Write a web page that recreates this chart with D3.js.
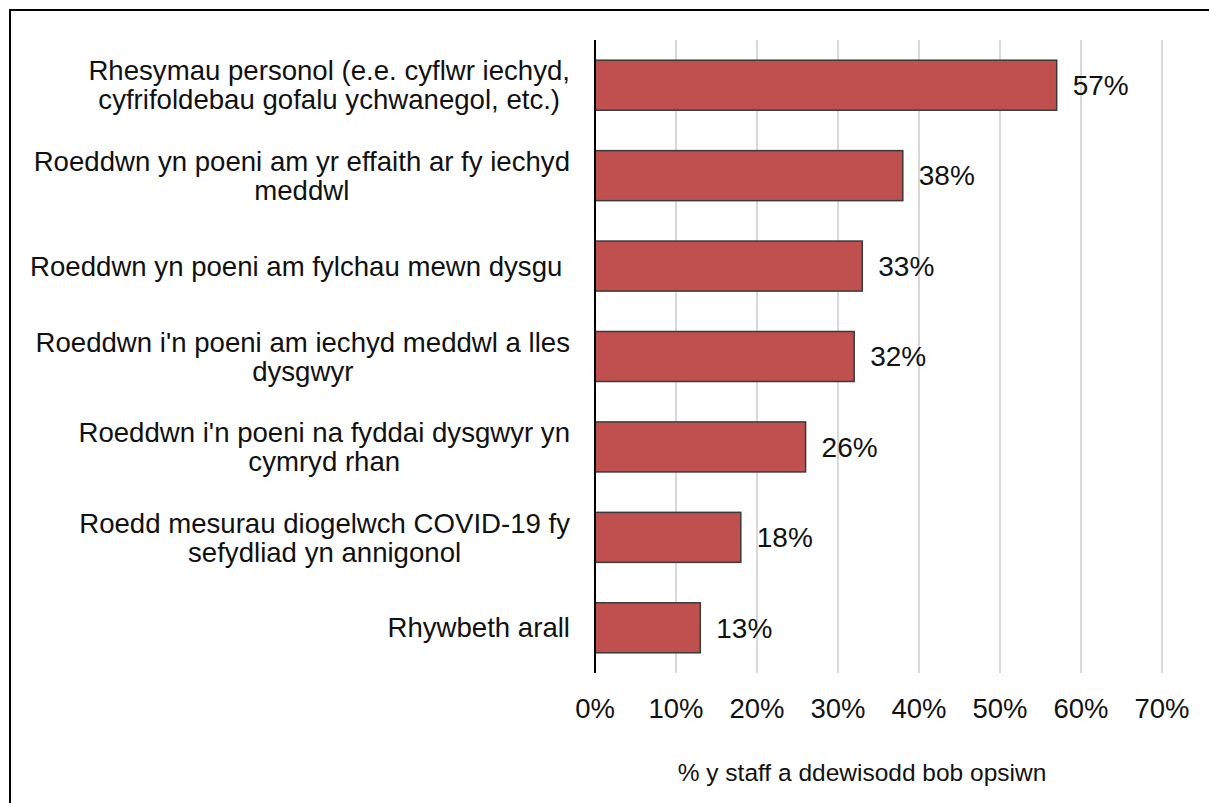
<!DOCTYPE html>
<html>
<head>
<meta charset="utf-8">
<script src="https://cdn.jsdelivr.net/npm/d3@7"></script>
<style>
  body { margin: 0; background: #fff; }
  text { font-family: "Liberation Sans", Arial, sans-serif; fill: #111; white-space: pre; }
</style>
</head>
<body>
<div id="chart"></div>
<script>
// categories (each one split into its display lines)
var categories = [
  ["Rhesymau personol (e.e. cyflwr iechyd,", "cyfrifoldebau gofalu ychwanegol, etc.)"],
  ["Roeddwn yn poeni am yr effaith ar fy iechyd", "meddwl"],
  ["Roeddwn yn poeni am fylchau mewn dysgu "],
  ["Roeddwn i'n poeni am iechyd meddwl a lles", "dysgwyr"],
  ["Roeddwn i'n poeni na fyddai dysgwyr yn", "cymryd rhan"],
  ["Roedd mesurau diogelwch COVID-19 fy", "sefydliad yn annigonol"],
  ["Rhywbeth arall"]
];
var values = [57, 38, 33, 32, 26, 18, 13];
var ticks = [0, 10, 20, 30, 40, 50, 60, 70];
var axisTitle = "% y staff a ddewisodd bob opsiwn";

var W = 1209, H = 803;
var fs = 27.6;

var svg = d3.select("#chart").append("svg")
    .attr("width", W)
    .attr("height", H);

// frame
svg.append("rect")
    .attr("x", 10).attr("y", 10)
    .attr("width", W + 20).attr("height", H + 20)
    .attr("fill", "none")
    .attr("stroke", "#000")
    .attr("stroke-width", 2);

var x = d3.scaleLinear().domain([0, 70]).range([595, 1162]);
var y = d3.scaleBand()
    .domain(d3.range(categories.length))
    .range([40, 673])
    .paddingInner(0.447)
    .paddingOuter(0.2235);

// gridlines
svg.append("g")
    .selectAll("line")
    .data(ticks.slice(1))
    .enter().append("line")
    .attr("x1", function(d) { return x(d); })
    .attr("x2", function(d) { return x(d); })
    .attr("y1", 40)
    .attr("y2", 673)
    .attr("stroke", "#d9d9d9")
    .attr("stroke-width", 2);

// bars
svg.append("g")
    .selectAll("rect")
    .data(values)
    .enter().append("rect")
    .attr("x", x(0))
    .attr("y", function(d, i) { return y(i); })
    .attr("width", function(d) { return x(d) - x(0); })
    .attr("height", y.bandwidth())
    .attr("fill", "#c0504d")
    .attr("stroke", "#3a3a3a")
    .attr("stroke-width", 1.5);

// value labels
svg.append("g")
    .selectAll("text")
    .data(values)
    .enter().append("text")
    .attr("x", function(d) { return x(d) + 16; })
    .attr("y", function(d, i) { return y(i) + y.bandwidth() / 2; })
    .attr("dy", "0.35em")
    .attr("font-size", 28)
    .text(function(d) { return d + "%"; });

// vertical axis line
svg.append("line")
    .attr("x1", x(0)).attr("x2", x(0))
    .attr("y1", 40).attr("y2", 673)
    .attr("stroke", "#000")
    .attr("stroke-width", 2);

// x tick labels
svg.append("g")
    .selectAll("text")
    .data(ticks)
    .enter().append("text")
    .attr("x", function(d) { return x(d); })
    .attr("y", 708)
    .attr("dy", "0.35em")
    .attr("text-anchor", "middle")
    .attr("font-size", 27.5)
    .text(function(d) { return d + "%"; });

// axis title
svg.append("text")
    .attr("x", 862)
    .attr("y", 772)
    .attr("dy", "0.35em")
    .attr("text-anchor", "middle")
    .attr("font-size", 24.5)
    .text(axisTitle);

// category labels: lines centred inside a box whose right edge sits at 570
var lineH = 29;
var labelRight = 570;
var lab = svg.append("g");
categories.forEach(function(lines, i) {
  var g = lab.append("g");
  var cy = y(i) + y.bandwidth() / 2;
  var t = g.selectAll("text")
      .data(lines)
      .enter().append("text")
      .attr("y", function(d, j) { return cy + (j - (lines.length - 1) / 2) * lineH; })
      .attr("dy", "0.35em")
      .attr("text-anchor", "middle")
      .attr("font-size", fs)
      .text(function(d) { return d; });
  var maxW = 0;
  t.each(function() { maxW = Math.max(maxW, this.getComputedTextLength()); });
  t.attr("x", labelRight - maxW / 2);
});
</script>
</body>
</html>
